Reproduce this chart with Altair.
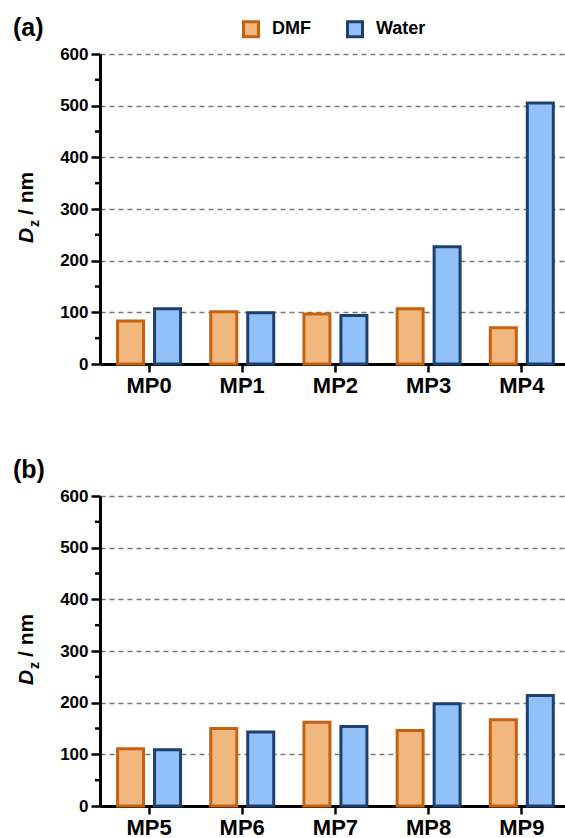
import altair as alt
import pandas as pd

FONT = "Liberation Sans"

solvents = ["DMF", "Water"]
fill_colors = ["#F2B77E", "#92C0F8"]
stroke_colors = ["#C46210", "#1E406E"]

cats_a = ["MP0", "MP1", "MP2", "MP3", "MP4"]
dmf_a = [83, 101, 97, 107, 70]
water_a = [107, 99, 94, 227, 505]

cats_b = ["MP5", "MP6", "MP7", "MP8", "MP9"]
dmf_b = [111, 150, 162, 146, 167]
water_b = [109, 143, 154, 198, 214]

y_ticks = [0, 100, 200, 300, 400, 500, 600]
y_minor = [50, 150, 250, 350, 450, 550]

PLOT_W = 465
PLOT_H = 310


def panel(cats, dmf, water, tag):
    df = pd.DataFrame({
        "cat": cats * 2,
        "solvent": ["DMF"] * len(cats) + ["Water"] * len(cats),
        "value": dmf + water,
    })
    leg = alt.Legend(
        title=None, orient="none", legendX=142, legendY=-34,
        direction="horizontal", columns=2, symbolType="square",
        symbolSize=225, symbolStrokeWidth=3, labelFont=FONT,
        labelFontSize=18, labelFontWeight="bold", labelColor="black",
        labelOffset=12, columnPadding=30,
    )
    yscale = alt.Scale(domain=[0, 600], nice=False)
    yaxis = alt.Axis(values=y_ticks, title=None, labelFont=FONT,
                     labelFontSize=17, labelFontWeight="bold",
                     labelColor="black", labelPadding=3, tickSize=9,
                     tickWidth=2.5, tickColor="black",
                     domainColor="black", domainWidth=3, grid=True,
                     gridDash=[5, 4], gridColor="#777777", gridWidth=1.5)
    bars = alt.Chart(df).mark_bar(strokeWidth=3).encode(
        x=alt.X("cat:N", sort=cats,
                scale=alt.Scale(paddingInner=0.324, paddingOuter=0.157, align=0.6),
                axis=alt.Axis(title=None, labelAngle=0, labelFont=FONT,
                              labelFontSize=22, labelFontWeight="bold",
                              labelColor="black", labelPadding=3, tickSize=8,
                              tickWidth=2.5, tickColor="black",
                              domainColor="black", domainWidth=3, grid=False)),
        xOffset=alt.XOffset("solvent:N", sort=solvents,
                            scale=alt.Scale(paddingInner=0.297, paddingOuter=0)),
        y=alt.Y("value:Q", scale=yscale, axis=yaxis),
        fill=alt.Fill("solvent:N", sort=solvents,
                      scale=alt.Scale(domain=solvents, range=fill_colors),
                      legend=leg),
        stroke=alt.Stroke("solvent:N", sort=solvents,
                          scale=alt.Scale(domain=solvents, range=stroke_colors),
                          legend=leg),
    )
    minor = alt.Chart(pd.DataFrame({"v": y_minor})).mark_rule(
        color="black", strokeWidth=2.5
    ).encode(y=alt.Y("v:Q", scale=yscale, axis=yaxis),
             x=alt.value(-5), x2=alt.value(0))

    tag_t = alt.Chart(pd.DataFrame({"t": [tag]})).mark_text(
        align="left", baseline="alphabetic", font=FONT, fontSize=25,
        fontWeight="bold", color="black"
    ).encode(x=alt.value(-87), y=alt.value(-18), text="t:N")

    d_t = alt.Chart(pd.DataFrame({"t": ["D"]})).mark_text(
        align="left", baseline="alphabetic", angle=270, font=FONT,
        fontSize=21, fontWeight="bold", fontStyle="italic", color="black"
    ).encode(x=alt.value(-67), y=alt.value(189), text="t:N")
    z_t = alt.Chart(pd.DataFrame({"t": ["z"]})).mark_text(
        align="left", baseline="alphabetic", angle=270, font=FONT,
        fontSize=14, fontWeight="bold", color="black"
    ).encode(x=alt.value(-61), y=alt.value(173), text="t:N")
    nm_t = alt.Chart(pd.DataFrame({"t": ["/ nm"]})).mark_text(
        align="left", baseline="alphabetic", angle=270, font=FONT,
        fontSize=21, fontWeight="bold", color="black"
    ).encode(x=alt.value(-67), y=alt.value(161), text="t:N")

    return alt.layer(bars, minor, tag_t, d_t, z_t, nm_t).properties(
        width=PLOT_W, height=PLOT_H)


chart = alt.vconcat(
    panel(cats_a, dmf_a, water_a, "(a)"),
    panel(cats_b, dmf_b, water_b, "(b)"),
    spacing=132, bounds="flush",
).configure_view(stroke=None).properties(
    padding={"left": 13, "top": 16, "right": 0, "bottom": 0})

chart.save("out.html", embed_options={"renderer": "svg", "actions": False})
